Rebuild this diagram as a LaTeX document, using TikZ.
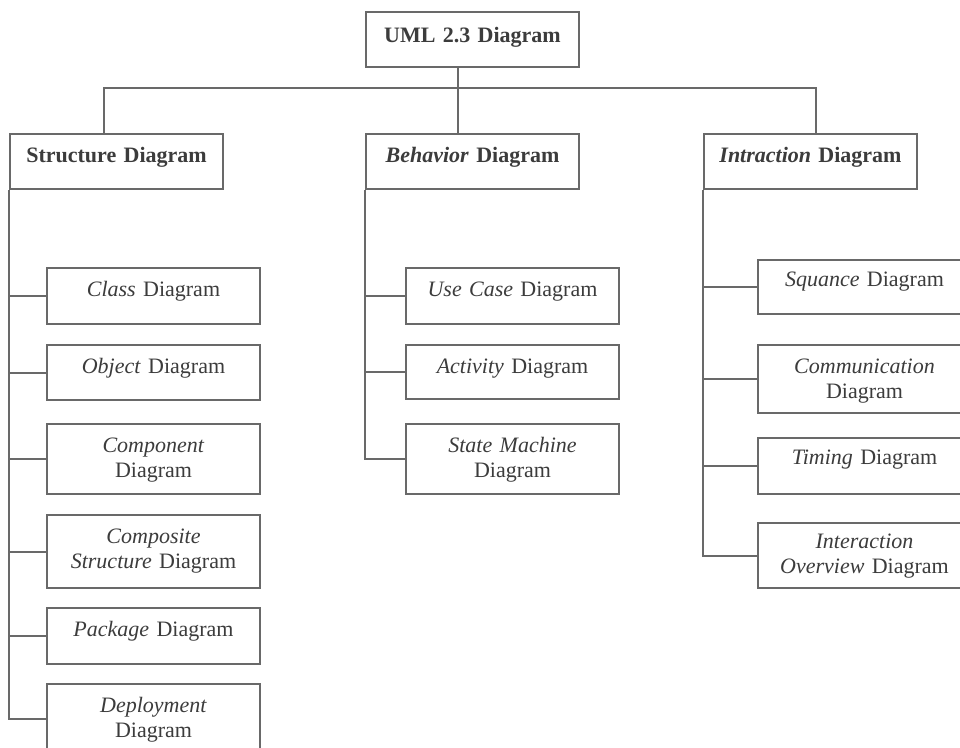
\documentclass[tikz,border=0pt]{standalone}
\usepackage{fontspec}
\setmainfont{Liberation Serif}
\usepackage{tikz}
\definecolor{umlline}{RGB}{105,105,105}
\definecolor{umltext}{RGB}{60,60,60}

\begin{document}
\begin{tikzpicture}[x=1pt, y=-1pt,
    diagbox/.style={draw=umlline, line width=2pt, text=umltext, anchor=north west,
          inner xsep=4pt, inner ysep=0pt, text width=205pt, align=center,
          text height=28pt, font=\fontsize{22}{25}\selectfont},
    headbox/.style={diagbox, font=\fontsize{22}{25}\selectfont\bfseries},
    link/.style={draw=umlline, line width=2pt}]
    \clip (0,0) rectangle (960,747);
    \fill[white] (0,0) rectangle (960,747);

    \node[headbox, text height=30pt, text depth=25pt] (uml) at (365,11) {UML 2.3 Diagram};
    \node[headbox, text depth=27pt] (str) at (9,133) {Structure Diagram};
    \node[headbox, text depth=27pt] (beh) at (365,133) {\textit{Behavior} Diagram};
    \node[headbox, text depth=27pt] (int) at (703,133) {\textit{Intraction} Diagram};

    \coordinate (lft) at (104,88);
    \coordinate (hub) at (458,88);
    \coordinate (rgt) at (816,88);
    \draw[link] (str.north -| lft) -- (lft) -- (rgt) -- (int.north -| rgt);
    \draw[link] (uml.south -| hub) -- (beh.north -| hub);

    \node[diagbox, text depth=28pt] (cls) at (46,267) {\textit{Class} Diagram};
    \node[diagbox, text depth=27pt] (obj) at (46,344) {\textit{Object} Diagram};
    \node[diagbox, text depth=42pt] (cmp) at (46,423) {\textit{Component}\\Diagram};
    \node[diagbox, text depth=45pt] (csd) at (46,514) {\textit{Composite}\\\textit{Structure} Diagram};
    \node[diagbox, text depth=28pt] (pkg) at (46,607) {\textit{Package} Diagram};
    \node[diagbox, text depth=42pt] (dep) at (46,683) {\textit{Deployment}\\Diagram};

    \node[diagbox, text depth=28pt] (ucs) at (405,267) {\textit{Use Case} Diagram};
    \node[diagbox, text depth=26pt] (act) at (405,344) {\textit{Activity} Diagram};
    \node[diagbox, text depth=42pt] (stm) at (405,423) {\textit{State Machine}\\Diagram};

    \node[diagbox, text height=26pt, text depth=28pt] (sqd) at (757,259) {\textit{Squance} Diagram};
    \node[diagbox, text depth=40pt] (com) at (757,344) {\textit{Communication}\\Diagram};
    \node[diagbox, text height=26pt, text depth=30pt] (tim) at (757,437) {\textit{Timing} Diagram};
    \node[diagbox, text height=25pt, text depth=40pt] (iov) at (757,522) {\textit{Interaction}\\\textit{Overview} Diagram};

    \draw[link] (str.south west) |- (dep.west);
    \foreach \kid in {cls,obj,cmp,csd,pkg}
      \draw[link] (str.south west |- \kid.west) -- (\kid.west);
    \draw[link] (beh.south west) |- (stm.west);
    \foreach \kid in {ucs,act}
      \draw[link] (beh.south west |- \kid.west) -- (\kid.west);
    \draw[link] (int.south west) |- (iov.west);
    \foreach \kid in {sqd,com,tim}
      \draw[link] (int.south west |- \kid.west) -- (\kid.west);
  \end{tikzpicture}
\end{document}
